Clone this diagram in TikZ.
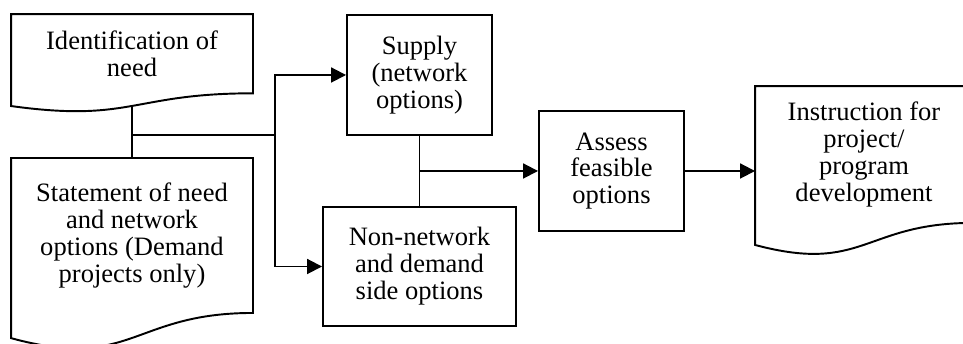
\documentclass[tikz,border=0pt]{standalone}
\usepackage{fontspec}
\setmainfont{Liberation Serif}
\usetikzlibrary{arrows.meta,calc}

% document outline: #1 node, #2 depth of the whole shape
\newcommand{\docframe}[2]{%
  \draw ([yshift=-0.132*#2]#1.south west) -- (#1.north west) -- (#1.north east) -- (#1.south east)
    .. controls (#1.south) and ([yshift=-0.306*#2]#1.south) .. ([yshift=-0.132*#2]#1.south west) -- cycle;
  \coordinate (#1-bot) at ([yshift=-0.132*#2]#1.south);}

\begin{document}
\begin{tikzpicture}[box/.style={draw, rectangle, align=center, inner sep=0pt, minimum width=#1},
				doc/.style={rectangle, align=center, inner sep=0pt, minimum width=#1},
				>={Triangle[length=8.5pt,width=8.5pt]},   %Pfeilspitzen
				line width=1.1pt, font=\fontsize{15.1}{15.3}\selectfont]
				%Bildbereich
				\useasboundingbox (0,0) rectangle (19.26,6.88);
				\clip (0,0) rectangle (19.26,6.88);
				% Kaesten
				\node[doc=4.8cm, minimum height=1.546cm] (need) at (2.64,5.806) {Identification of\\need};
				\node[doc=4.8cm, minimum height=3.06cm] (stmt) at (2.64,2.17) {Statement of need\\and network\\options (Demand\\projects only)};
				\node[box=2.9cm, minimum height=2.4cm] (supply) at (8.39,5.38) {Supply\\(network\\options)};
				\node[box=3.86cm, minimum height=2.38cm] (nonnet) at (8.39,1.55) {Non-network\\and demand\\side options};
				\node[box=2.9cm, minimum height=2.4cm] (assess) at (12.23,3.46) {Assess\\feasible\\options};
				\node[doc=4.32cm, minimum height=2.698cm] (instr) at (17.28,3.79) {Instruction for\\project/\\program\\development};
				\docframe{need}{1.928cm}
				\docframe{stmt}{3.812cm}
				\docframe{instr}{3.34cm}
				% Verbindungen
				\coordinate (split) at ($(need-bot)!0.55!(stmt.north)$);
				\coordinate (fork) at (5.5,0 |- split);
				\draw (need-bot) -- (stmt.north);
				\draw (split) -- (fork);
				\draw[->] (fork) |- (supply.west);
				\draw[->] (fork) |- (nonnet.west);
				\draw (supply.south) -- (nonnet.north);
				\draw[->] (supply.south |- assess.west) -- (assess.west);
				\draw[->] (assess.east) -- (instr.west |- assess.east);
\end{tikzpicture}
\end{document}
